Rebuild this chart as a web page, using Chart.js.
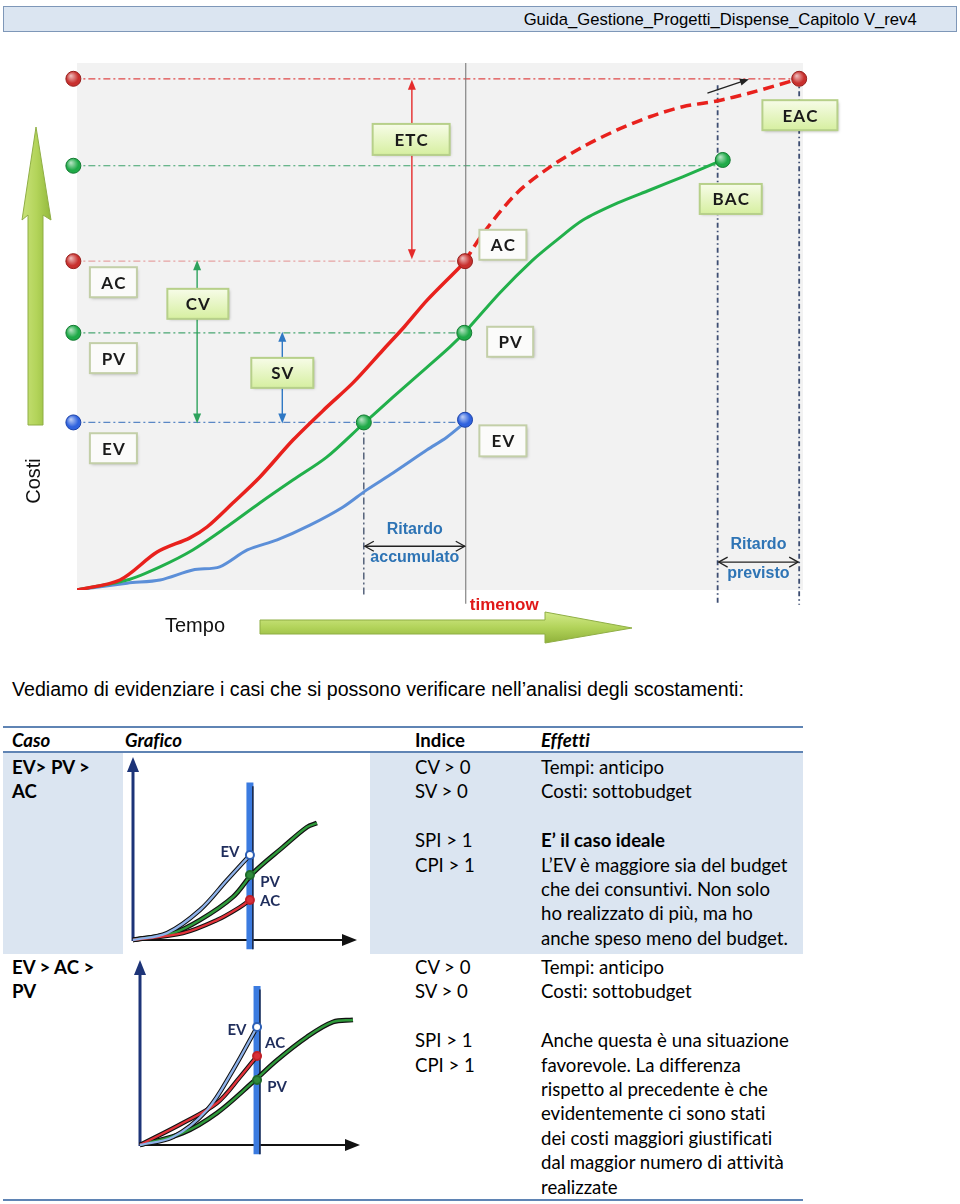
<!DOCTYPE html>
<html lang="it">
<head>
<meta charset="utf-8">
<script src="https://cdn.jsdelivr.net/npm/chart.js@4.4.1/dist/chart.umd.min.js"></script>
<style>
  body { margin: 0; width: 960px; height: 1204px; position: relative; background: #fff; overflow: hidden;
         font-family: "Liberation Sans", Arial, sans-serif; color: #000; }
  .header { position: absolute; left: 3px; top: 6px; width: 954px; height: 26px; background: #dbe5f1;
            border: 1px solid #7e97b8; box-sizing: border-box; }
  .header span { position: absolute; right: 39px; top: 3px; font-family: "Liberation Sans Narrow", "Arial Narrow", "Liberation Sans", sans-serif;
                 font-size: 17px; white-space: nowrap; transform-origin: right center; }
  #main { position: absolute; left: 0; top: 0; }
  .intro { position: absolute; left: 12px; top: 678px; font-size: 19.6px; white-space: nowrap; }
  .rule { position: absolute; left: 3px; width: 800px; background: #5f84b4; }
  .fill { position: absolute; background: #dbe5f1; }
  .cell { position: absolute; font-family: Lato, "Noto Sans", sans-serif; font-size: 18.6px; line-height: 24.4px; white-space: nowrap;
          font-variant-ligatures: none; }
  .b { font-weight: bold; }
  .bi { font-weight: bold; font-style: italic; }
  canvas.small { position: absolute; }
</style>
</head>
<body>
<div class="header"><span id="hdr">Guida_Gestione_Progetti_Dispense_Capitolo V_rev4</span></div>
<canvas id="main" width="960" height="660"></canvas>

<div class="intro">Vediamo di evidenziare i casi che si possono verificare nell’analisi degli scostamenti:</div>

<div class="fill" style="left:3px; top:753px; width:120px; height:201px;"></div>
<div class="fill" style="left:370px; top:753px; width:433px; height:201px;"></div>
<div class="rule" style="top:726px; height:2px;"></div>
<div class="rule" style="top:751px; height:2px;"></div>
<div class="rule" style="top:1199px; height:2px;"></div>

<div class="cell bi" style="left:12px; top:728px;">Caso</div>
<div class="cell bi" style="left:125px; top:728px;">Grafico</div>
<div class="cell b" style="left:415px; top:728px;">Indice</div>
<div class="cell bi" style="left:541px; top:728px;">Effetti</div>

<div class="cell b" style="left:12px; top:755px;">EV&gt; PV &gt;<br>AC</div>
<div class="cell" style="left:415px; top:755px;">CV &gt; 0<br>SV &gt; 0<br>&nbsp;<br>SPI &gt; 1<br>CPI &gt; 1</div>
<div class="cell" style="left:541px; top:755px;">Tempi: anticipo<br>Costi: sottobudget<br>&nbsp;<br><b>E’ il caso ideale</b><br>L’EV è maggiore sia del budget<br>che dei consuntivi. Non solo<br>ho realizzato di più, ma ho<br>anche speso meno del budget.</div>

<div class="cell b" style="left:12px; top:955px;">EV &gt; AC &gt;<br>PV</div>
<div class="cell" style="left:415px; top:955px;">CV &gt; 0<br>SV &gt; 0<br>&nbsp;<br>SPI &gt; 1<br>CPI &gt; 1</div>
<div class="cell" style="left:541px; top:955px;">Tempi: anticipo<br>Costi: sottobudget<br>&nbsp;<br>Anche questa è una situazione<br>favorevole. La differenza<br>rispetto al precedente è che<br>evidentemente ci sono stati<br>dei costi maggiori giustificati<br>dal maggior numero di attività<br>realizzate</div>

<canvas id="case1" class="small" width="245" height="201" style="left:125px; top:752px;"></canvas>
<canvas id="case2" class="small" width="245" height="245" style="left:125px; top:955px;"></canvas>

<script>
// ---- main S-curve (time 0..100, cost 0..100) ----
const acTime  = [0, 5.9, 11.0, 15.5, 17.9, 21.4, 25.1, 29.7, 34.3, 37.9, 42.0, 45.0, 48.1, 52.6, 53.3];
const acCost  = [0, 1.9, 7.2, 9.9, 12.0, 16.5, 21.4, 28.5, 34.7, 39.3, 45.5, 50.0, 55.0, 61.3, 62.4];
const eacTime = [53.3, 55.8, 60.4, 65.0, 69.5, 74.2, 78.7, 83.2, 87.9, 92.4, 99.2];
const eacCost = [62.4, 67.7, 75.3, 80.3, 84.1, 87.3, 89.8, 91.7, 92.8, 94.3, 97.0];
const pvTime  = [0, 6.9, 11.4, 15.9, 20.6, 25.1, 29.7, 34.3, 39.3, 43.4, 48.1, 51.2, 53.2, 58.1, 62.6, 65.9, 69.5, 74.2, 78.7, 83.2, 88.7];
const pvCost  = [0, 1.9, 4.4, 7.6, 12.0, 16.5, 20.9, 25.2, 31.5, 36.6, 42.3, 46.1, 48.8, 56.4, 62.6, 66.4, 70.2, 73.4, 75.9, 78.4, 81.6];
const evTime  = [0, 6.9, 11.4, 15.9, 19.6, 23.4, 27.5, 32.0, 36.5, 39.8, 43.4, 48.1, 50.8, 53.3];
const evCost  = [0, 1.3, 1.9, 3.8, 4.4, 7.6, 9.5, 12.3, 15.7, 19.0, 22.2, 26.6, 29.0, 31.8];

const timeNow = 53.4;       // timenow
const evTimeOnPlan = 39.4;  // when the plan reached today's EV
const bacTime = 88.7, bacCost = 81.6, bacEnd = 88.0;
const eacEnd = 99.2, eacFinal = 97.0;
const levelNames = ['EAC', 'BAC', 'AC', 'PV', 'EV'];
const levelCost  = [97.0, 80.5, 62.4, 48.8, 31.8];
const levelEnd   = [99.2, 88.7, 53.4, 53.4, 53.4];

// ---- small case charts ----
const c1EvTime = [0, 15.2, 29.9, 42.0, 52.2];           const c1EvCost = [0, 3.8, 16.4, 32.8, 46.4];
const c1PvTime = [0, 17.9, 29.9, 44.6, 53.6, 67.0, 77.7, 82.1]; const c1PvCost = [0, 3.8, 10.9, 23.5, 36.6, 50.8, 61.7, 63.9];
const c1AcTime = [0, 22.3, 37.5, 47.8, 52.2];           const c1AcCost = [0, 3.8, 10.9, 18.0, 21.9];
const c1Now = 52.2, c1Marks = [46.4, 35.5, 21.9];        // EV, PV, AC at timenow

const c2EvTime = [0, 15.0, 30.5, 42.3, 53.2];           const c2EvCost = [0, 4.3, 18.9, 40.5, 63.8];
const c2AcTime = [0, 19.5, 35.0, 45.5, 53.2];           const c2AcCost = [0, 11.9, 22.7, 36.8, 48.1];
const c2PvTime = [0, 19.5, 35.0, 51.4, 62.3, 75.9, 87.7, 96.8]; const c2PvCost = [0, 6.5, 17.3, 34.1, 45.9, 58.4, 66.5, 67.6];
const c2Now = 53.2, c2Marks = [63.8, 35.1, 48.1];        // EV, PV, AC at timenow

const pts = (xs, ys) => xs.map((x, i) => ({x: x, y: ys[i]}));

function arrowHead(ctx, x, y, ang, len, wid, color) {
  ctx.save(); ctx.translate(x, y); ctx.rotate(ang);
  ctx.beginPath(); ctx.moveTo(0, 0); ctx.lineTo(-len, -wid / 2); ctx.lineTo(-len, wid / 2); ctx.closePath();
  ctx.fillStyle = color; ctx.fill(); ctx.restore();
}
function chevron(ctx, x, y, dir) {
  ctx.beginPath(); ctx.moveTo(x - dir * 9, y - 5); ctx.lineTo(x, y); ctx.lineTo(x - dir * 9, y + 5); ctx.stroke();
}
function vArrow(ctx, x, y1, y2, color) {
  ctx.save(); ctx.strokeStyle = color; ctx.lineWidth = 1.4;
  ctx.beginPath(); ctx.moveTo(x, y1 + 8); ctx.lineTo(x, y2 - 8); ctx.stroke();
  arrowHead(ctx, x, y1, -Math.PI / 2, 10, 8, color);
  arrowHead(ctx, x, y2, Math.PI / 2, 10, 8, color);
  ctx.restore();
}
function box(ctx, cx, cy, w, h, label, green) {
  const x = cx - w / 2, y = cy - h / 2;
  ctx.save();
  ctx.shadowColor = 'rgba(0,0,0,0.28)'; ctx.shadowBlur = 3; ctx.shadowOffsetX = 1.5; ctx.shadowOffsetY = 1.5;
  if (green) {
    const g = ctx.createLinearGradient(0, y, 0, y + h);
    g.addColorStop(0, '#f7fce8'); g.addColorStop(1, '#d6efa0');
    ctx.fillStyle = g;
  } else ctx.fillStyle = '#fbfbfa';
  ctx.fillRect(x, y, w, h);
  ctx.shadowColor = 'transparent';
  ctx.strokeStyle = green ? '#b7d08a' : '#c3cfa8'; ctx.lineWidth = 2;
  ctx.strokeRect(x, y, w, h);
  ctx.fillStyle = '#1a1a1a'; ctx.font = 'bold 17px Lato, sans-serif';
  ctx.textAlign = 'center'; ctx.textBaseline = 'middle';
  ctx.fillText(label.split('').join(String.fromCharCode(8202)), cx, cy + 1);
  ctx.restore();
}

// labels placed in data units on the main chart
const boxes = [
  {label: 'ETC', t: 45.9, v: 85.5, w: 77, h: 31, green: true},
  {label: 'EAC', t: 99.3, v: 90.1, w: 75, h: 30, green: true},
  {label: 'BAC', t: 89.8, v: 74.2, w: 62, h: 30, green: true},
  {label: 'AC',  t: 58.5, v: 65.5, w: 47, h: 30},
  {label: 'PV',  t: 59.5, v: 47.1, w: 46, h: 30},
  {label: 'EV',  t: 58.5, v: 28.3, w: 47, h: 31},
  {label: 'AC',  t: 5.0,  v: 58.4, w: 47, h: 30},
  {label: 'PV',  t: 5.0,  v: 44.0, w: 47, h: 30},
  {label: 'EV',  t: 5.0,  v: 26.9, w: 47, h: 30},
  {label: 'CV',  t: 16.6, v: 54.3, w: 61, h: 30, green: true},
  {label: 'SV',  t: 28.2, v: 41.2, w: 62, h: 30, green: true}
];

const markerTime  = [-0.5, -0.5, -0.5, -0.5, -0.5, timeNow - 0.1, timeNow - 0.2, timeNow - 0.1, evTimeOnPlan, bacTime, eacEnd];
const markerCost  = [levelCost[0], levelCost[1], levelCost[2], levelCost[3], levelCost[4], 62.4, 48.8, 32.3, 31.8, bacCost, eacFinal];
const markerColor = ['#c8302e', '#1faa48', '#c8302e', '#1faa48', '#2f62de', '#c8302e', '#1faa48', '#2f62de', '#1faa48', '#1faa48', '#c8302e'];
const markerEdge  = ['#96201d', '#147a32', '#96201d', '#147a32', '#1d43a8', '#96201d', '#147a32', '#1d43a8', '#147a32', '#147a32', '#96201d'];

const evmDecor = {
  id: 'evmDecor',
  beforeDatasetsDraw(chart) {
    const {ctx, chartArea: a} = chart;
    ctx.save();
    ctx.fillStyle = '#f2f2f2';
    ctx.fillRect(a.left, a.top, a.right - a.left - 2, a.bottom - a.top);

    // Costi arrow
    const ag = ctx.createLinearGradient(22, 0, 51, 0);
    ag.addColorStop(0, '#c9e27a'); ag.addColorStop(0.5, '#b3d45a'); ag.addColorStop(1, '#93b93c');
    ctx.fillStyle = ag; ctx.strokeStyle = '#8fae45'; ctx.lineWidth = 1;
    ctx.beginPath();
    ctx.moveTo(36, 127); ctx.lineTo(51, 220); ctx.lineTo(43, 215); ctx.lineTo(43, 425);
    ctx.lineTo(28, 425); ctx.lineTo(28, 215); ctx.lineTo(22, 220); ctx.closePath();
    ctx.fill(); ctx.stroke();
    // Tempo arrow
    const tg = ctx.createLinearGradient(0, 612, 0, 643);
    tg.addColorStop(0, '#d3ea8a'); tg.addColorStop(0.5, '#b2d35a'); tg.addColorStop(1, '#8fb13a');
    ctx.fillStyle = tg;
    ctx.beginPath();
    ctx.moveTo(260, 620); ctx.lineTo(545, 620); ctx.lineTo(545, 612); ctx.lineTo(632, 628);
    ctx.lineTo(545, 643); ctx.lineTo(545, 634); ctx.lineTo(260, 634); ctx.closePath();
    ctx.fill(); ctx.stroke();

    ctx.fillStyle = '#111'; ctx.font = '20px "Liberation Sans", Arial, sans-serif';
    ctx.textAlign = 'center'; ctx.textBaseline = 'middle';
    ctx.fillText('Tempo', 195, 626);
    ctx.save(); ctx.translate(34, 481); ctx.rotate(-Math.PI / 2); ctx.fillText('Costi', 0, 0); ctx.restore();
    ctx.restore();
  },
  afterDatasetsDraw(chart) {
    const {ctx, chartArea: a} = chart;
    const X = v => chart.scales.x.getPixelForValue(v), Y = v => chart.scales.y.getPixelForValue(v);
    ctx.save();
    // gloss on the marker dots
    chart.getDatasetMeta(0).data.forEach(p => {
      const g = ctx.createRadialGradient(p.x - 2.5, p.y - 3, 0.5, p.x - 1, p.y - 1.5, 6);
      g.addColorStop(0, 'rgba(255,255,255,0.65)'); g.addColorStop(1, 'rgba(255,255,255,0)');
      ctx.fillStyle = g; ctx.beginPath(); ctx.arc(p.x, p.y, 7, 0, Math.PI * 2); ctx.fill();
    });

    vArrow(ctx, X(46.0), Y(levelCost[0]) + 1, Y(levelCost[2]) - 2, '#e52b2b');
    vArrow(ctx, X(16.5), Y(levelCost[2]) - 1, Y(levelCost[4]) + 1, '#2ea25c');
    vArrow(ctx, X(28.2), Y(levelCost[3]) - 1, Y(levelCost[4]) + 1, '#2f78c4');

    // black trend arrow near EAC
    ctx.strokeStyle = '#222'; ctx.lineWidth = 1.3;
    ctx.beginPath(); ctx.moveTo(X(86.6), Y(94.3)); ctx.lineTo(X(91.6), Y(96.6)); ctx.stroke();
    arrowHead(ctx, X(92.3), Y(96.9), Math.atan2(Y(96.9) - Y(94.3), X(92.3) - X(86.6)), 9, 7, '#222');

    // delays
    ctx.strokeStyle = '#222'; ctx.lineWidth = 1.3;
    const dl = [[evTimeOnPlan, timeNow, 8.3, 11.4, 6.1, 'accumulato'], [bacEnd, eacEnd, 5.3, 8.6, 3.1, 'previsto']];
    dl.forEach(d => {
      const x1 = X(d[0]) + 1, x2 = X(d[1]) - 1, y = Y(d[2]);
      ctx.beginPath(); ctx.moveTo(x1, y); ctx.lineTo(x2, y); ctx.stroke();
      chevron(ctx, x1, y, -1); chevron(ctx, x2, y, 1);
      ctx.fillStyle = '#2e74b5'; ctx.font = 'bold 16px "Liberation Sans", Arial, sans-serif';
      ctx.textAlign = 'center'; ctx.textBaseline = 'middle';
      ctx.fillText('Ritardo', (x1 + x2) / 2, Y(d[3]));
      ctx.fillText(d[5], (x1 + x2) / 2, Y(d[4]));
    });

    ctx.fillStyle = '#e01818'; ctx.font = 'bold 17px "Liberation Sans", Arial, sans-serif';
    ctx.textAlign = 'left'; ctx.textBaseline = 'middle';
    ctx.fillText('timenow', X(timeNow) + 4, a.bottom + 15);

    boxes.forEach(b => box(ctx, X(b.t), Y(b.v), b.w, b.h, b.label, b.green));
    ctx.restore();
  }
};

const refLine = (xs, ys, color, width, dash) => ({
  data: pts(xs, ys), showLine: true, borderColor: color, borderWidth: width, borderDash: dash,
  pointRadius: 0, clip: false, order: 10
});
const dashDot = [7, 3, 2, 3];
const levelColors = ['#e04848', '#3da36b', '#e6a3a3', '#4aa673', '#5a87c5'];

const mainSets = [
  {data: pts(markerTime, markerCost), showLine: false, pointRadius: 7.5, pointBackgroundColor: markerColor,
   pointBorderColor: markerEdge, pointBorderWidth: 1, clip: false, order: 0},
  {data: pts(acTime, acCost), showLine: true, borderColor: '#e8211d', borderWidth: 3.5, pointRadius: 0, tension: 0.3, order: 1},
  {data: pts(eacTime, eacCost), showLine: true, borderColor: '#e8211d', borderWidth: 3.5, borderDash: [11, 6], pointRadius: 0, tension: 0.3, clip: false, order: 1},
  {data: pts(pvTime, pvCost), showLine: true, borderColor: '#22b04b', borderWidth: 3, pointRadius: 0, tension: 0.3, order: 2},
  {data: pts(evTime, evCost), showLine: true, borderColor: '#5c8fd8', borderWidth: 3, pointRadius: 0, tension: 0.3, order: 3},
  refLine([timeNow, timeNow], [100, -2.6], '#7a7a7a', 1.1, []),
  refLine([evTimeOnPlan, evTimeOnPlan], [levelCost[4], -1], '#2c3e5c', 1.2, dashDot),
  refLine([bacEnd, bacEnd], [95.8, -2.8], '#3d4d72', 1.8, [5, 3, 1.5, 3]),
  refLine([eacEnd, eacEnd], [levelCost[0], -2.8], '#3d4d72', 1.8, [5, 3, 1.5, 3])
];
levelCost.forEach((c, i) => mainSets.push(refLine([-0.5, levelEnd[i]], [c, c], levelColors[i], 1.2, dashDot)));

new Chart(document.getElementById('main'), {
  type: 'scatter',
  data: {datasets: mainSets},
  options: {
    responsive: false, animation: false, devicePixelRatio: 1,
    layout: {padding: {left: 77, top: 63, right: 155, bottom: 70}},
    scales: {
      x: {type: 'linear', min: 0, max: 100, display: false},
      y: {type: 'linear', min: 0, max: 100, display: false}
    },
    plugins: {legend: {display: false}, tooltip: {enabled: false}}
  },
  plugins: [evmDecor]
});

// ---- small charts ----
function caseChart(id, pad, now, ev, pv, ac, marks, labelPos) {
  const curve = (d, color, w) => ({data: d, showLine: true, borderColor: color, borderWidth: w, pointRadius: 0, tension: 0.35, clip: false});
  const decor = {
    id: 'caseDecor',
    beforeDatasetsDraw(chart) {
      const {ctx, chartArea: a} = chart;
      ctx.save();
      ctx.strokeStyle = '#1d3478'; ctx.lineWidth = 3;
      ctx.beginPath(); ctx.moveTo(a.left, a.bottom + 1); ctx.lineTo(a.left, a.top + 12); ctx.stroke();
      arrowHead(ctx, a.left, a.top, -Math.PI / 2, 15, 12, '#1d3478');
      ctx.strokeStyle = '#111'; ctx.lineWidth = 2.2;
      ctx.beginPath(); ctx.moveTo(a.left, a.bottom); ctx.lineTo(a.right - 12, a.bottom); ctx.stroke();
      arrowHead(ctx, a.right, a.bottom, 0, 15, 12, '#111');
      ctx.restore();
    },
    afterDatasetsDraw(chart) {
      const {ctx} = chart;
      const X = v => chart.scales.x.getPixelForValue(v), Y = v => chart.scales.y.getPixelForValue(v);
      ctx.save();
      const edge = ['#2d5fb5', '#1e6a2a', '#c02028'], fill = ['#ffffff', '#2f8a3a', '#d8303a'];
      marks.forEach((m, i) => {
        ctx.beginPath(); ctx.arc(X(now), Y(m), 4, 0, Math.PI * 2);
        ctx.fillStyle = fill[i]; ctx.fill(); ctx.lineWidth = 2; ctx.strokeStyle = edge[i]; ctx.stroke();
      });
      ctx.fillStyle = '#1f2d5c'; ctx.font = 'bold 15px Lato, sans-serif';
      ctx.textAlign = 'center'; ctx.textBaseline = 'middle';
      labelPos.forEach(l => ctx.fillText(l[0], X(l[1]), Y(l[2])));
      ctx.restore();
    }
  };
  // first dataset is drawn on top
  new Chart(document.getElementById(id), {
    type: 'scatter',
    data: {datasets: [
      curve(ev, '#8eb2ea', 2.4), curve(ac, '#e2333a', 2.4), curve(pv, '#2f9a3b', 2.4),
      curve(ev, '#111', 4.4), curve(ac, '#111', 4.4), curve(pv, '#111', 4.8),
      {data: [{x: now + 1.3, y: -5}, {x: now + 1.3, y: 84}], showLine: true, borderColor: '#1a2540', borderWidth: 1.5, pointRadius: 0, clip: false},
      {data: [{x: now, y: -5}, {x: now, y: 86}], showLine: true, borderColor: '#3b7be0', borderWidth: 7, pointRadius: 0, clip: false}
    ]},
    options: {
      responsive: false, animation: false, devicePixelRatio: 1,
      layout: {padding: pad},
      scales: {x: {min: 0, max: 100, display: false}, y: {min: 0, max: 100, display: false}},
      plugins: {legend: {display: false}, tooltip: {enabled: false}}
    },
    plugins: [decor]
  });
}

caseChart('case1', {left: 8, top: 5, right: 13, bottom: 13}, c1Now,
  pts(c1EvTime, c1EvCost), pts(c1PvTime, c1PvCost), pts(c1AcTime, c1AcCost), c1Marks,
  [['EV', 43.3, 48.1], ['PV', 61.2, 31.7], ['AC', 61.2, 21.3]]);
caseChart('case2', {left: 15, top: 5, right: 10, bottom: 55}, c2Now,
  pts(c2EvTime, c2EvCost), pts(c2PvTime, c2PvCost), pts(c2AcTime, c2AcCost), c2Marks,
  [['EV', 44.1, 62.2], ['AC', 61.4, 55.1], ['PV', 62.3, 31.4]]);

// fit the header text to the width it has in the page
const hdr = document.getElementById('hdr');
const hw = hdr.getBoundingClientRect().width;
if (hw > 0) hdr.style.transform = 'scaleX(' + (393 / hw) + ')';
</script>
</body>
</html>
